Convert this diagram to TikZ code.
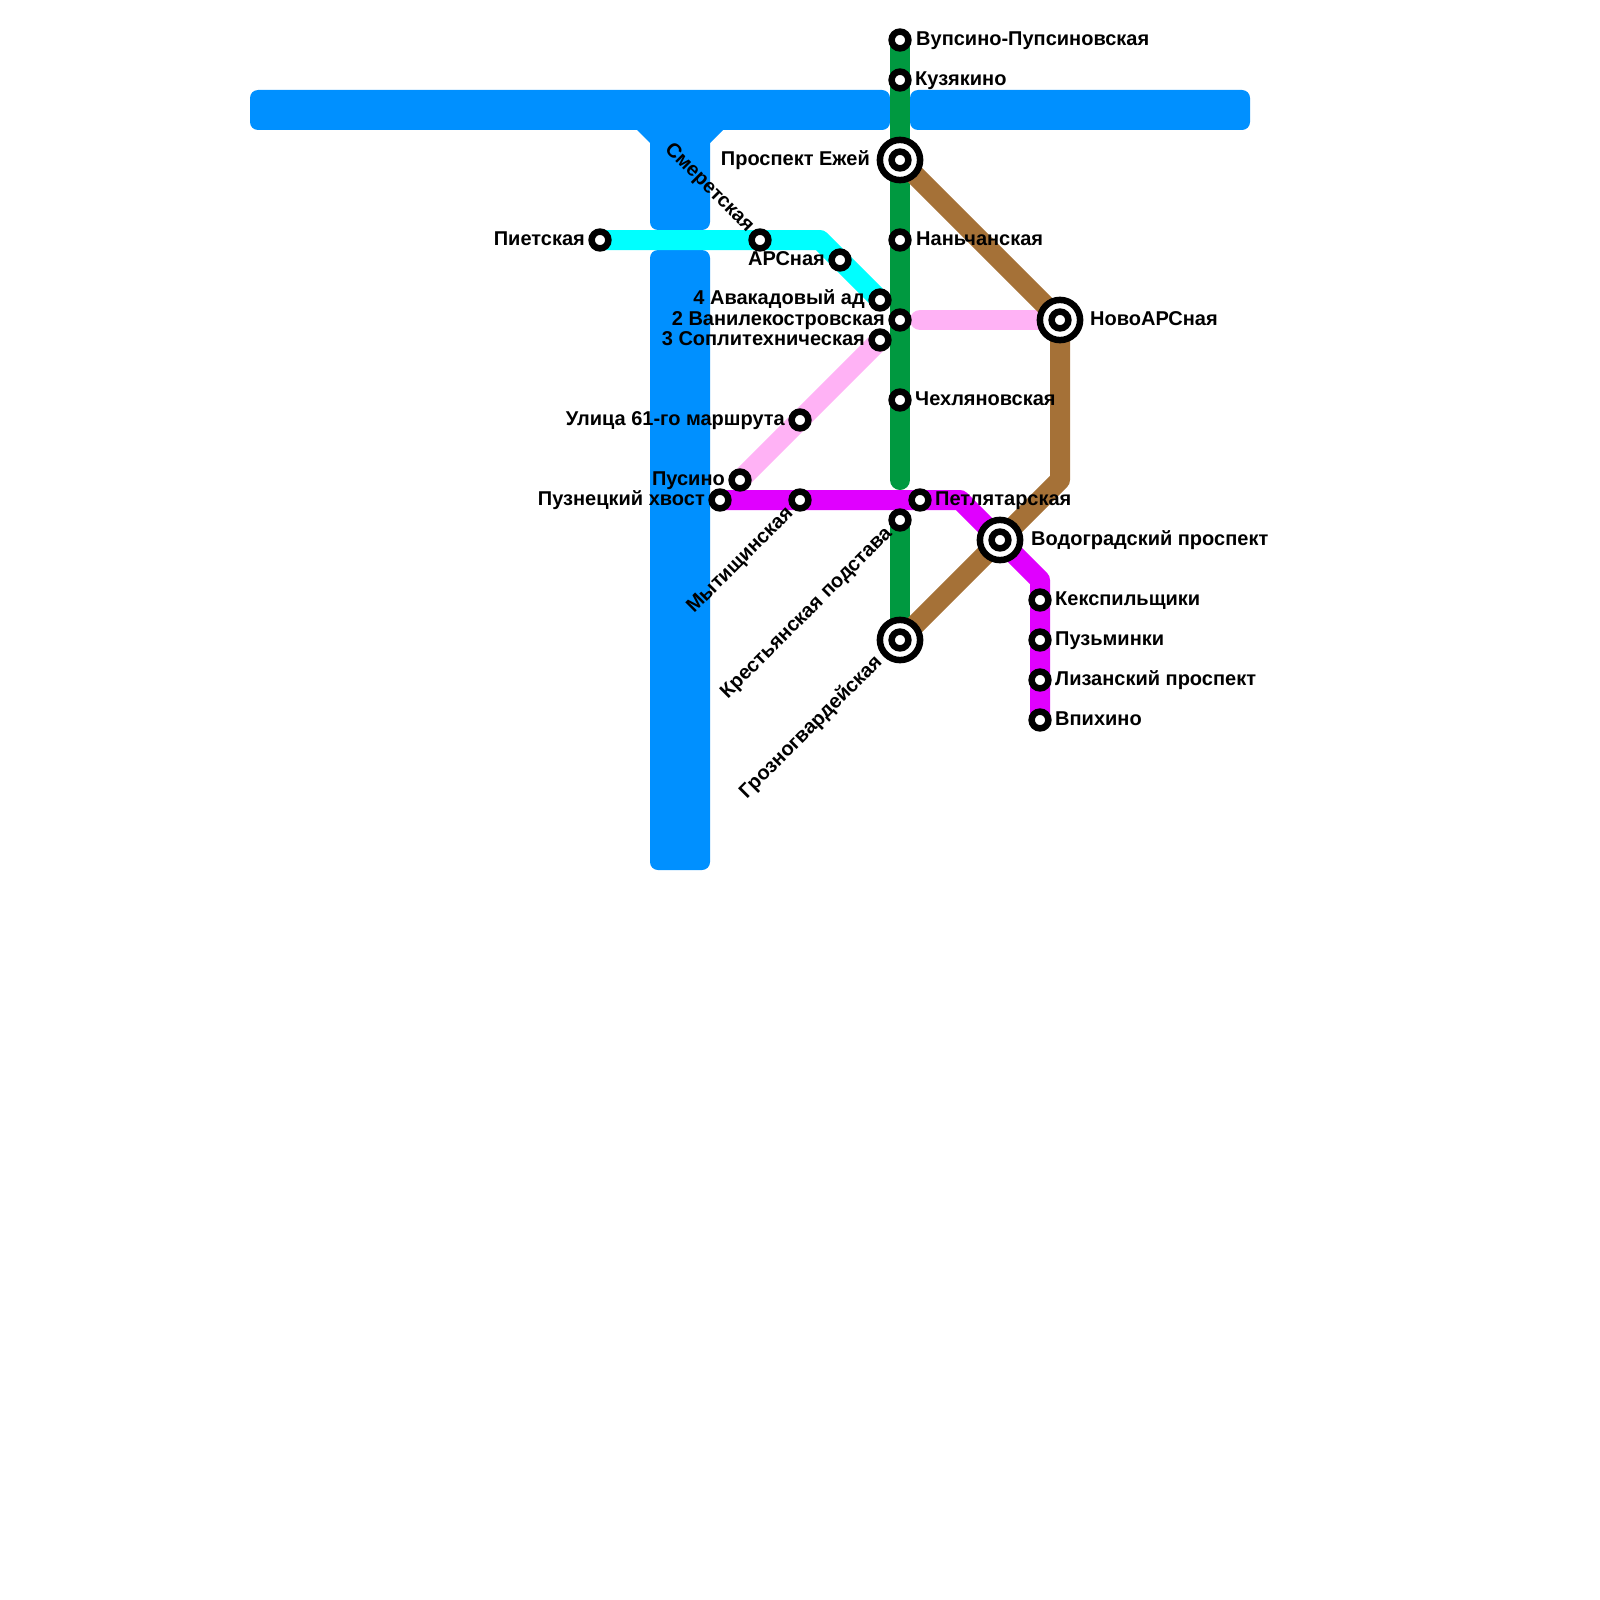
\documentclass[tikz,border=0pt]{standalone}
\usepackage{fontspec}
\setmainfont{Liberation Sans}
\usetikzlibrary{backgrounds}
\definecolor{lineblue}{RGB}{0,144,255}
\definecolor{linegreen}{RGB}{0,153,64}
\definecolor{linecyan}{RGB}{0,255,255}
\definecolor{linepink}{RGB}{255,178,245}
\definecolor{linepurple}{RGB}{224,0,255}
\definecolor{linebrown}{RGB}{165,113,55}
\tikzset{
  metro/.style={line width=20pt,line cap=round,line join=round},
  stn/.style={circle,draw=black,fill=white,line width=6.5pt,inner sep=0pt,minimum size=16.8pt},
  bigstn/.style={circle,draw=black,fill=white,line width=6.5pt,inner sep=0pt,minimum size=40.2pt},
  lbl/.style={font=\fontsize{20}{22}\selectfont\bfseries,inner sep=0pt,text=black},
  lblr/.style={lbl,anchor=base west},
  lbll/.style={lbl,anchor=base east},
  tunnel/.style={fill=lineblue,rounded corners=8pt}
}
\begin{document}
\begin{tikzpicture}[x=1pt,y=-1pt]
\useasboundingbox (0,0) rectangle (1600,1600);
% Зелёная линия
\node[stn] (vupsino) at (900,40) {};
\node[stn] (kuzyakino) at (900,80) {};
\node[bigstn] (ezhei) at (900,160) {};
\node[stn] (ezheiin) at (900,160) {};
\node[stn] (nanchan) at (900,240) {};
\node[stn] (vanil) at (900,320) {};
\node[stn] (chekh) at (900,400) {};
\coordinate (greenend) at (900,480);
\node[stn] (krest) at (900,520) {};
\node[bigstn] (grozno) at (900,640) {};
\node[stn] (groznoin) at (900,640) {};
% Голубая линия
\node[stn] (piet) at (600,240) {};
\node[stn] (smeret) at (760,240) {};
\coordinate (cyanturn) at (820,240);
\node[stn] (ars) at (840,260) {};
\node[stn] (avak) at (880,300) {};
% Розовая линия
\node[stn] (sopl) at (880,340) {};
\node[stn] (ulitsa) at (800,420) {};
\node[stn] (pusino) at (740,480) {};
\coordinate (pinkstart) at (920,320);
\node[bigstn] (novo) at (1060,320) {};
\node[stn] (novoin) at (1060,320) {};
% Фиолетовая линия
\node[stn] (puzn) at (720,500) {};
\node[stn] (mytish) at (800,500) {};
\node[stn] (petlya) at (920,500) {};
\coordinate (purpleturna) at (960,500);
\node[bigstn] (vodo) at (1000,540) {};
\node[stn] (vodoin) at (1000,540) {};
\coordinate (purpleturnb) at (1040,580);
\node[stn] (kexp) at (1040,600) {};
\node[stn] (puzmin) at (1040,640) {};
\node[stn] (lizan) at (1040,680) {};
\node[stn] (vpikh) at (1040,720) {};
\coordinate (brownturn) at (1060,480);

% Подписи
\node[lblr] (vupsinotxt) at (916,46) {Вупсино-Пупсиновская};
\node[lblr] (kuzyakinotxt) at (915,86) {Кузякино};
\node[lbll] (ezheitxt) at (870,165) {Проспект Ежей};
\node[lblr] (nanchantxt) at (916,245) {Наньчанская};
\node[lbll] (piettxt) at (585,245) {Пиетская};
\node[lbll,rotate=-45] (smerettxt) at (747,233) {Смеретская};
\node[lbll] (arstxt) at (825,265) {АРСная};
\node[lbll] (avaktxt) at (865,304) {4 Авакадовый ад};
\node[lbll] (vaniltxt) at (885,325) {2 Ванилекостровская};
\node[lbll] (sopltxt) at (865,345) {3 Соплитехническая};
\node[lblr] (novotxt) at (1090,325) {НовоАРСная};
\node[lblr] (chekhtxt) at (915,405) {Чехляновская};
\node[lbll] (ulitsatxt) at (785,425) {Улица 61-го маршрута};
\node[lbll] (pusinotxt) at (725,485) {Пусино};
\node[lbll] (puzntxt) at (705,505) {Пузнецкий хвост};
\node[lblr] (petlyatxt) at (935,505) {Петлятарская};
\node[lbll,rotate=45] (mytishtxt) at (794,514) {Мытищинская};
\node[lbll,rotate=45] (kresttxt) at (893,534) {Крестьянская подстава};
\node[lblr] (vodotxt) at (1031,545) {Водоградский проспект};
\node[lblr] (kexptxt) at (1055,605) {Кекспильщики};
\node[lblr] (puzmintxt) at (1055,645) {Пузьминки};
\node[lbll,rotate=45] (groznotxt) at (883,663) {Грозногвардейская};
\node[lblr] (lizantxt) at (1055,685) {Лизанский проспект};
\node[lblr] (vpikhtxt) at (1055,725) {Впихино};

\begin{scope}[on background layer]
  % Синяя линия
  \fill[tunnel] (250,90) rectangle (890,130);
  \fill[tunnel] (910,90) rectangle (1250,130);
  \fill[tunnel] (650,110) rectangle (710,230);
  \fill[tunnel] (650,250) rectangle (710,870);
  \fill[lineblue] (637,130) -- (723,130) -- (710,143) -- (650,143) -- cycle;
  % Линии
  \draw[metro,linecyan] (piet.center) -- (cyanturn) -- (avak.center);
  \draw[metro,linepink] (sopl.center) -- (pusino.center);
  \draw[metro,linepink] (pinkstart) -- (novo.center);
  \draw[metro,linepurple] (puzn.center) -- (purpleturna) -- (purpleturnb) -- (vpikh.center);
  \draw[metro,linegreen] (vupsino.center) -- (greenend);
  \draw[metro,linegreen] (krest.center) -- (grozno.center);
  \draw[metro,linebrown] (ezhei.center) -- (novo.center) -- (brownturn) -- (grozno.center);
\end{scope}
\end{tikzpicture}
\end{document}
